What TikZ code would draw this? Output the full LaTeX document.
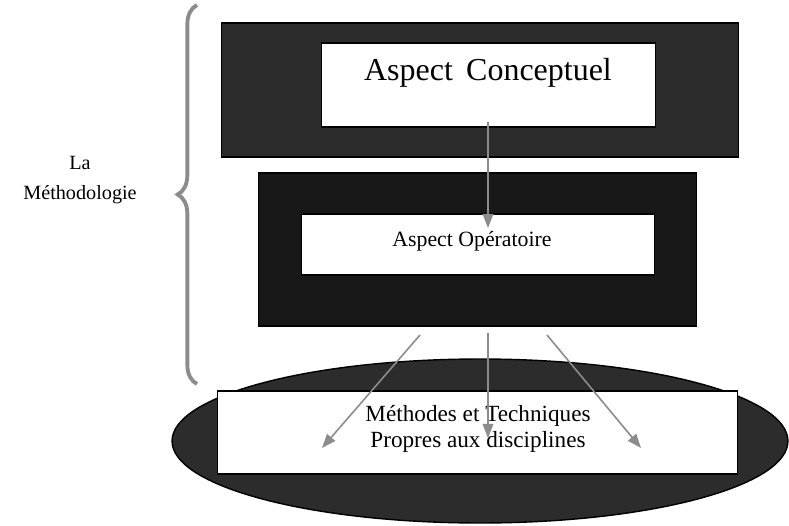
\documentclass[tikz,border=0pt]{standalone}
\usepackage{fontspec}
\setmainfont{Liberation Serif}
\usetikzlibrary{positioning,arrows.meta,decorations.pathreplacing,shapes.geometric}
\definecolor{darkA}{HTML}{2C2C2C}
\definecolor{darkB}{HTML}{181818}
\definecolor{lineGray}{HTML}{8C8C8C}

\begin{document}
\begin{tikzpicture}[x=0.02cm,y=-0.02cm,
  frame/.style={draw=black,line width=0.6pt,inner sep=0pt},
  flow/.style={draw=lineGray,line width=0.9pt,-{Triangle[length=8pt,width=6pt]},fill=lineGray}]
\useasboundingbox (0,0) rectangle (789,525);
% brace and its label
\draw[lineGray,line width=2.2pt,decorate,decoration={brace,amplitude=11pt}] (197,384) -- (197,5);
\node[align=center,font=\fontsize{11.5}{17}\selectfont] (methode) at (80,180) {La\\Méthodologie};
% level 1: conceptual aspect
\node[frame,fill=darkA,minimum width=10.36cm,minimum height=2.68cm] (conceptBox) at (480,90) {};
\node[frame,fill=white,minimum width=6.70cm,minimum height=1.68cm] (concept) at (488.5,85) {};
\node[font=\fontsize{18.2}{20}\selectfont] (conceptText) at (488,73) {Aspect\, Conceptuel};
% level 2: operational aspect
\node[frame,fill=darkB,minimum width=8.78cm,minimum height=3.06cm] (operBox) at (477.5,249.5) {};
\node[frame,fill=white,minimum width=7.08cm,minimum height=1.22cm] (oper) at (478,244.5) {};
\node[font=\fontsize{12.4}{14}\selectfont] (operText) at (472,241) {Aspect Opératoire};
% level 3: methods and techniques
\node[ellipse,draw=black,line width=0.8pt,fill=darkA,minimum width=12.32cm,minimum height=3.28cm] (techBase) at (480,441) {};
\node[frame,fill=white,minimum width=10.42cm,minimum height=1.66cm] (tech) at (477.5,432.5) {};
\node[align=center,font=\fontsize{13.2}{15}\selectfont] (techText) at (478,429) {Méthodes et Techniques\\Propres aux disciplines};
% arrows
\coordinate (c1) at (488,122);
\coordinate (o1) at (488,228);
\coordinate (s1) at (488,333);
\coordinate (s2) at (420,335);
\coordinate (s3) at (547,335);
\coordinate (t1) at (488,438);
\coordinate (t2) at (322,448);
\coordinate (t3) at (641,448);
\draw[flow] (c1) -- (o1);
\draw[flow] (s1) -- (t1);
\draw[flow] (s2) -- (t2);
\draw[flow] (s3) -- (t3);
\end{tikzpicture}
\end{document}
